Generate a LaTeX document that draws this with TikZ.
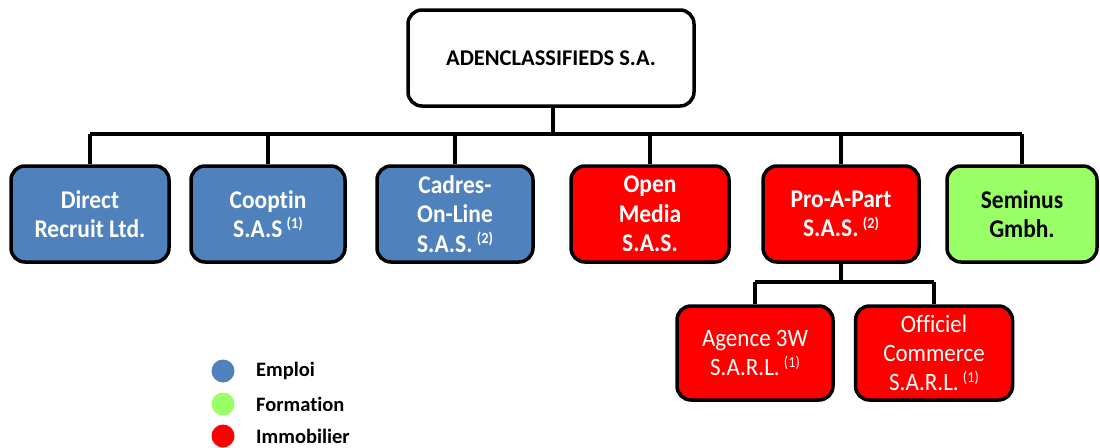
\documentclass[tikz,border=0pt]{standalone}
\usepackage{fontspec}
\setmainfont{Carlito}[Ligatures={NoCommon}]
\newfontfamily\boxfont{Carlito}[Ligatures={NoCommon}, FakeStretch=0.92]
\definecolor{eblue}{HTML}{4F81BD}
\definecolor{ired}{HTML}{FF0000}
\definecolor{fgreen}{HTML}{99FF66}
\newcommand{\sups}[1]{\,\raisebox{0.7ex}{\fontsize{15.5}{15}\selectfont #1}}
\begin{document}
\begin{tikzpicture}[x=1pt,y=-1pt,
  org/.style={draw=black, line width=3.5pt, rounded corners=14pt, align=center,
    inner sep=0pt, minimum height=96pt},
  bluebox/.style={org, fill=eblue, text=white, minimum width=156pt,
    font=\boxfont\bfseries\fontsize{25.5}{29.5}\selectfont},
  redbox/.style={org, fill=ired, text=white, minimum width=156pt,
    font=\boxfont\bfseries\fontsize{25.5}{29.5}\selectfont},
  greenbox/.style={org, fill=fgreen, text=black, minimum width=150pt,
    font=\boxfont\bfseries\fontsize{25.5}{29.5}\selectfont},
  subbox/.style={org, fill=ired, text=white, minimum width=156pt, minimum height=94pt,
    font=\boxfont\fontsize{25}{29}\selectfont},
  conn/.style={draw=black, line width=3.5pt},
  legdot/.style={circle, inner sep=0pt, minimum size=23pt},
  legtxt/.style={anchor=west, inner sep=0pt, font=\bfseries\fontsize{20.5}{22}\selectfont}]
\useasboundingbox (0,0) rectangle (1100,447);

\node[org, fill=white, minimum width=286pt, font=\bfseries\fontsize{22.5}{26}\selectfont] (top) at (551,58) {ADENCLASSIFIEDS S.A.};

\node[bluebox, minimum width=158pt] (direct) at (90,214) {Direct\\Recruit Ltd.};
\node[bluebox, minimum width=154pt] (cooptin) at (268,214) {Cooptin\\S.A.S\sups{(1)}};
\node[bluebox] (cadres) at (455,214) {Cadres-\\On-Line\\S.A.S.\sups{(2)}};
\node[redbox, minimum width=158pt] (open) at (650,214) {Open\\Media\\S.A.S.};
\node[redbox] (pro) at (841,214) {Pro-A-Part\\S.A.S.\sups{(2)}};
\node[greenbox] (seminus) at (1022,214) {Seminus\\Gmbh.};

\node[subbox] (agence) at (755,353) {Agence 3W\\S.A.R.L.\sups{(1)}};
\node[subbox, minimum width=157pt] (officiel) at (934,353) {Officiel\\Commerce\\S.A.R.L.\sups{(1)}};

\coordinate (bus) at (553,134);
\coordinate (subbus) at (841,282);

\draw[conn] (top.south -| bus) -- (bus);
\draw[conn] (direct.north |- bus) -- (seminus.north |- bus);
\foreach \n in {direct,cooptin,cadres,open,pro,seminus}
  \draw[conn] (\n.north |- bus) -- (\n.north);
\draw[conn] (pro.south) -- (subbus);
\draw[conn] (agence.north |- subbus) -- (officiel.north |- subbus);
\draw[conn] (agence.north |- subbus) -- (agence.north);
\draw[conn] (officiel.north |- subbus) -- (officiel.north);

\node[legdot, fill=eblue] (d1) at (223,371) {};
\node[legdot, fill=fgreen] (d2) at (223,404) {};
\node[legdot, fill=ired] (d3) at (223,436) {};
\node[legtxt] (l1) at (256,371) {Emploi};
\node[legtxt] (l2) at (256,404) {Formation};
\node[legtxt] (l3) at (256,436) {Immobilier};
\end{tikzpicture}
\end{document}
